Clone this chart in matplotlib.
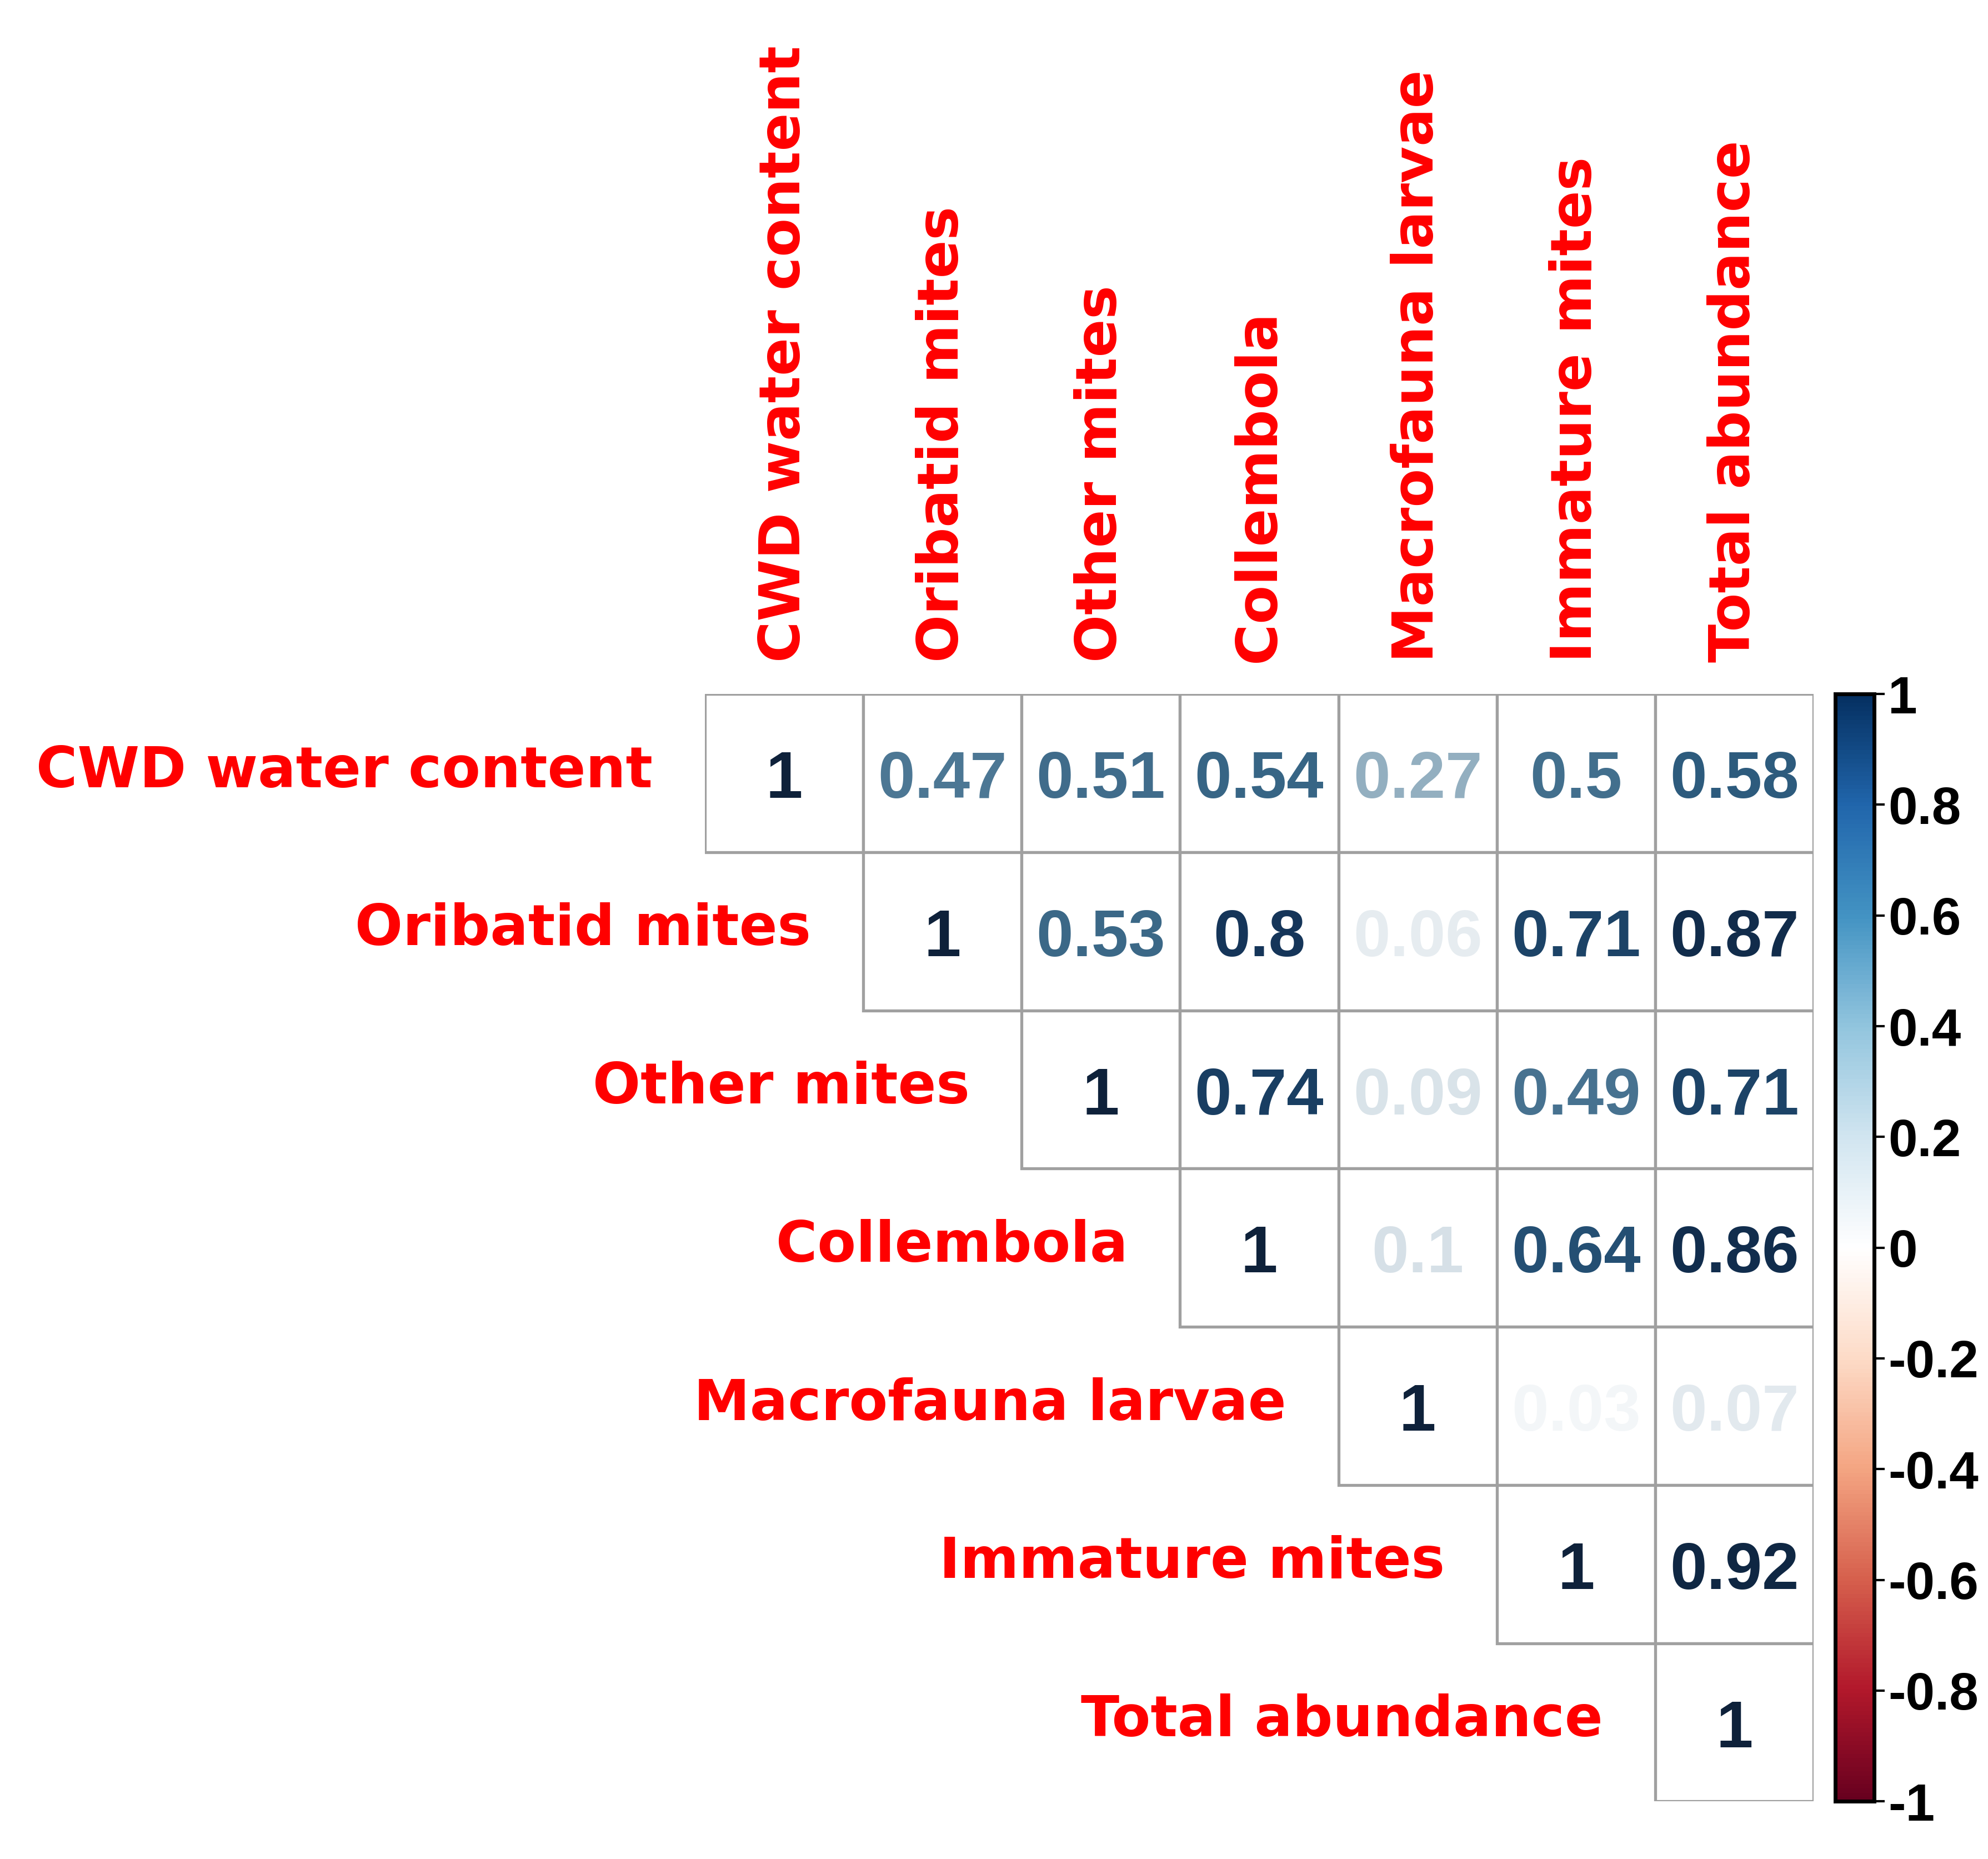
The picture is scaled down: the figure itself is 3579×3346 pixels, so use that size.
import matplotlib.pyplot as plt
import numpy as np
from matplotlib import font_manager
from matplotlib.colors import LinearSegmentedColormap, Normalize, to_rgb
from matplotlib.colorbar import ColorbarBase
from matplotlib.patches import Rectangle


LABELS = [
    "CWD water content",
    "Oribatid mites",
    "Other mites",
    "Collembola",
    "Macrofauna larvae",
    "Immature mites",
    "Total abundance",
]

# upper triangle rows, starting at the diagonal
ROW_0 = [1, 0.47, 0.51, 0.54, 0.27, 0.5, 0.58]
ROW_1 = [1, 0.53, 0.8, 0.06, 0.71, 0.87]
ROW_2 = [1, 0.74, 0.09, 0.49, 0.71]
ROW_3 = [1, 0.1, 0.64, 0.86]
ROW_4 = [1, 0.03, 0.07]
ROW_5 = [1, 0.92]
ROW_6 = [1]
ROWS = [ROW_0, ROW_1, ROW_2, ROW_3, ROW_4, ROW_5, ROW_6]

CBAR_TICKS = [-1, -0.8, -0.6, -0.4, -0.2, 0, 0.2, 0.4, 0.6, 0.8, 1]

# corrplot default palette
COL2 = ["#67001F", "#B2182B", "#D6604D", "#F4A582", "#FDDBC7", "#FFFFFF",
        "#D1E5F0", "#92C5DE", "#4393C3", "#2166AC", "#053061"]
cmap = LinearSegmentedColormap.from_list("corr", COL2, N=256)
norm = Normalize(-1, 1)

installed = {f.name for f in font_manager.fontManager.ttflist}
num_font = "Liberation Sans Narrow" if "Liberation Sans Narrow" in installed else "Liberation Sans"
label_color = "#FF0000"
grid_color = "#A0A0A0"
dark = np.array(to_rgb("#0f1e33"))


def text_color(value):
    # numbers in the original print darker than the colour bar
    w = 0.85 * abs(value)
    base = np.array(cmap(norm(value))[:3])
    return tuple((1 - w) * base + w * dark)


n = len(LABELS)

fig = plt.figure(figsize=(35.8, 33.46), dpi=100)
ax = fig.add_axes([0.3545, 0.031, 0.5575, 0.5957])
ax.set_xlim(-0.5, n - 0.5)
ax.set_ylim(n - 0.5, -0.5)
ax.axis("off")

for i, row in enumerate(ROWS):
    for k, value in enumerate(row):
        j = i + k
        ax.add_patch(Rectangle(
            (j - 0.5, i - 0.5), 1, 1,
            facecolor="white", edgecolor=grid_color, linewidth=3.8,
        ))
        ax.text(
            j, i + 0.05, f"{value:g}",
            ha="center", va="center",
            fontsize=103 if num_font.endswith("Narrow") else 86,
            fontweight="bold", family=num_font,
            color=text_color(value),
        )

for i, label in enumerate(LABELS):
    ax.text(
        i - 0.5 - 0.33, i - 0.01, label,
        ha="right", va="center",
        fontsize=73, fontweight="bold", color=label_color,
    )
    ax.text(
        i, -0.5 - 0.2, label,
        ha="center", va="bottom", rotation=90,
        fontsize=73, fontweight="bold", color=label_color,
    )

# colour bar
cax = fig.add_axes([0.9229, 0.031, 0.0196, 0.5957])
cb = ColorbarBase(cax, cmap=cmap, norm=norm, orientation="vertical")
cb.set_ticks(CBAR_TICKS)
cb.set_ticklabels([f"{t:g}" for t in CBAR_TICKS])
cb.outline.set_linewidth(5)
cax.tick_params(length=14, width=3, pad=4, labelsize=68)
for t in cax.get_yticklabels():
    t.set_family(num_font)
    t.set_fontweight("bold")

fig.savefig("out.png", dpi=100)
